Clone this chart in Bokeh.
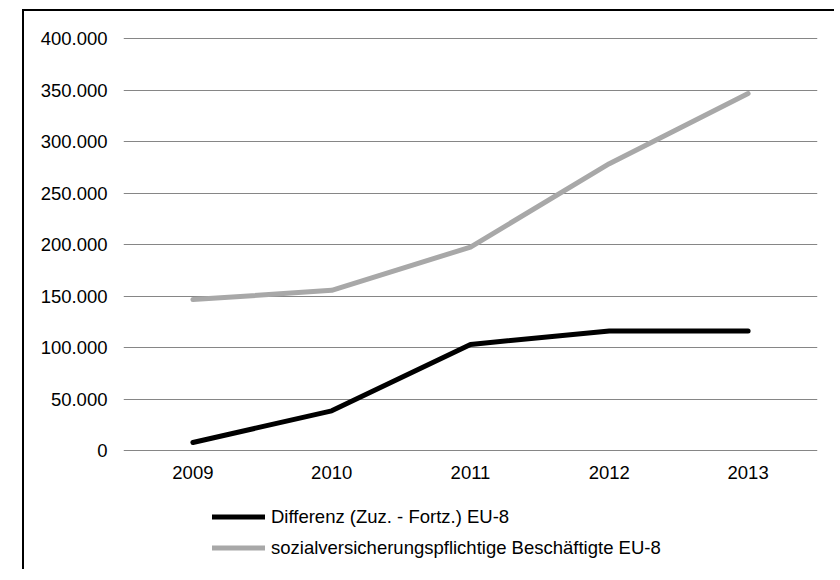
from bokeh.plotting import figure
from bokeh.models import FactorRange, Legend, LegendItem, CustomJSTickFormatter, FixedTicker, Range1d
from bokeh.embed import file_html
from bokeh.resources import INLINE

years = ["2009", "2010", "2011", "2012", "2013"]
differenz = [7800, 38500, 103000, 116000, 116000]
beschaeftigte = [146500, 155500, 197500, 278500, 346500]
y_ticks = [0, 50000, 100000, 150000, 200000, 250000, 300000, 350000, 400000]
label_diff = "Differenz (Zuz. - Fortz.) EU-8"
label_besch = "sozialversicherungspflichtige Beschäftigte EU-8"

FONT = "Liberation Sans"
FS = "18.5px"

# frame geometry (pixels): value axis 0..400000 spans 412 px,
# frame extends 115 px below zero and 3 px above the top gridline
Y_MAX = 400000
PX_VALUE = 412
PX_BELOW = 115
PX_ABOVE = 3
per_px = Y_MAX / PX_VALUE
y_start = -per_px * PX_BELOW
y_end = Y_MAX + per_px * PX_ABOVE

p = figure(x_range=FactorRange(*years, range_padding=0), y_range=Range1d(y_start, y_end),
           frame_width=694, frame_height=PX_VALUE + PX_BELOW + PX_ABOVE,
           output_backend="svg", toolbar_location=None,
           min_border_left=99, min_border_top=27 - PX_ABOVE, min_border_right=17, min_border_bottom=4)
p.margin = (9, 0, 0, 22)
p.styles = {"border-top": "2px solid black", "border-left": "2px solid black"}
p.outline_line_color = None
p.background_fill_color = "white"
p.border_fill_color = "white"

p.xgrid.grid_line_color = None
p.ygrid.grid_line_color = "#868686"
p.ygrid.grid_line_width = 1.2
p.yaxis.ticker = FixedTicker(ticks=y_ticks)
p.yaxis.formatter = CustomJSTickFormatter(code="return tick.toFixed(0).replace(/\\B(?=(\\d{3})+(?!\\d))/g, '.');")
p.xaxis.fixed_location = 0

for ax in (p.xaxis[0], p.yaxis[0]):
    ax.axis_line_color = None
    ax.major_tick_line_color = None
    ax.minor_tick_line_color = None
    ax.major_tick_out = 0
    ax.major_tick_in = 0
    ax.major_label_text_font = FONT
    ax.major_label_text_font_size = FS
    ax.major_label_text_color = "black"
p.yaxis.major_label_standoff = 16
p.xaxis.major_label_standoff = 15

r1 = p.line(years, differenz, line_color="black", line_width=5, line_cap="round", line_join="round")
r2 = p.line(years, beschaeftigte, line_color="#A8A8A8", line_width=5, line_cap="round", line_join="round")

legend = Legend(items=[LegendItem(label=label_diff, renderers=[r1]),
                       LegendItem(label=label_besch, renderers=[r2])],
                location=(89, 5), orientation="vertical",
                padding=0, margin=0, spacing=6, glyph_width=53, glyph_height=25,
                label_height=25, label_standoff=6,
                label_text_font=FONT, label_text_font_size=FS, label_text_color="black",
                border_line_color=None, background_fill_alpha=0)
p.add_layout(legend, "center")

open("out.html", "w").write(file_html(p, INLINE))
